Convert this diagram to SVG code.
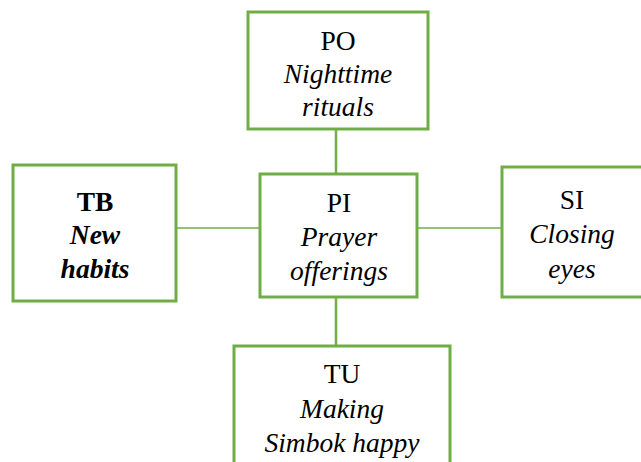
<svg xmlns="http://www.w3.org/2000/svg" width="641" height="462" viewBox="0 0 641 462">
<style>
.box{fill:#fff;stroke:#70AD47;stroke-width:3}
.con{stroke:#70AD47;fill:none}
text{font-family:"Liberation Serif","Times New Roman",serif;font-size:27.5px;fill:#000;text-anchor:middle}
.i{font-style:italic}
.b{font-weight:bold}
</style>
<rect width="641" height="462" fill="#fff"/>
<g id="connectors">
<line class="con" x1="336" y1="129" x2="336" y2="174" stroke-width="2.5"/>
<line class="con" x1="336" y1="297" x2="336" y2="346" stroke-width="2.5"/>
<line class="con" x1="176" y1="228" x2="260" y2="228" stroke-width="1.5"/>
<line class="con" x1="417" y1="228" x2="502" y2="228" stroke-width="1.5"/>
</g>
<g id="PO">
<rect class="box" x="248" y="12" width="180" height="117"/>
<text x="338" y="50">PO</text>
<text class="i" x="338" y="83">Nighttime</text>
<text class="i" x="338" y="116">rituals</text>
</g>
<g id="PI">
<rect class="box" x="260" y="174" width="157" height="123"/>
<text x="339" y="212">PI</text>
<text class="i" x="339" y="246">Prayer</text>
<text class="i" x="339" y="280">offerings</text>
</g>
<g id="TB">
<rect class="box" x="13" y="165" width="163" height="136"/>
<text class="b" x="95" y="211">TB</text>
<text class="b i" x="95" y="244">New</text>
<text class="b i" x="95" y="278">habits</text>
</g>
<g id="SI">
<rect class="box" x="502" y="167" width="142" height="130"/>
<text x="572" y="209">SI</text>
<text class="i" x="572" y="243">Closing</text>
<text class="i" x="572" y="278">eyes</text>
</g>
<g id="TU">
<rect class="box" x="234" y="346" width="216" height="130"/>
<text x="342" y="383">TU</text>
<text class="i" x="342" y="418">Making</text>
<text class="i" x="342" y="452">Simbok happy</text>
</g>
</svg>
